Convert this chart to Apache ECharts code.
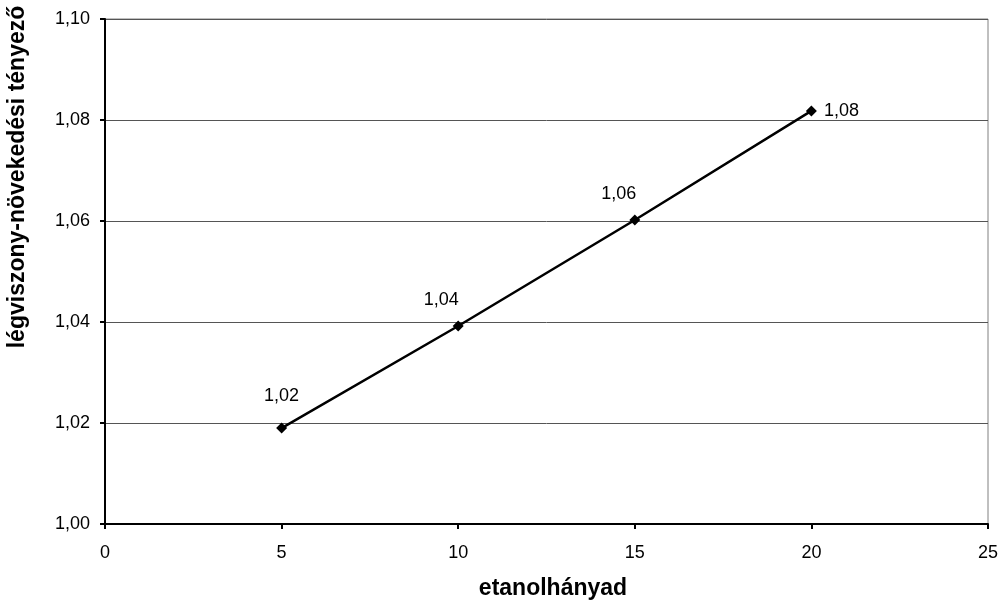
<!DOCTYPE html>
<html><head><meta charset="utf-8">
<script src="https://cdn.jsdelivr.net/npm/echarts@6/dist/echarts.min.js"></script>
<style>html,body{margin:0;padding:0;background:#fff}#c{width:1002px;height:601px}</style>
</head><body><div id="c"></div>
<script>
const xValues = [5, 10, 15, 20];
const yValues = [1.0190, 1.0392, 1.0602, 1.0818];
const labelOffsets = [[0, -32], [-17, -26], [-16, -26], [30, 0]];
const xTitle = 'etanolhányad';
const yTitle = 'légviszony-növekedési tényező';

const fmt = v => v.toFixed(2).replace('.', ',');
const font = 'Liberation Sans, Arial, sans-serif';
const chart = echarts.init(document.getElementById('c'), null, {renderer: 'canvas'});
chart.setOption({
  animation: false,
  backgroundColor: '#fff',
  grid: {left: 105, right: 14, top: 19, bottom: 77, show: true, borderColor: '#808080', borderWidth: 1},
  graphic: [
    {type: 'text', x: 18, y: 177, rotation: Math.PI / 2,
     style: {text: yTitle, fontFamily: font, fontWeight: 'bold', fontSize: 23, fill: '#000',
             align: 'center', verticalAlign: 'middle'}},
    {type: 'text', x: 553, y: 589,
     style: {text: xTitle, fontFamily: font, fontWeight: 'bold', fontSize: 23, fill: '#000',
             align: 'center', verticalAlign: 'middle'}}
  ],
  xAxis: {
    type: 'value', min: 0, max: 25, interval: 5,
    axisLine: {show: true, onZero: false, lineStyle: {color: '#000', width: 2}},
    axisTick: {show: true, length: 5, lineStyle: {color: '#000', width: 2}},
    axisLabel: {fontFamily: font, fontSize: 18, color: '#000', margin: 20},
    splitLine: {show: false}
  },
  yAxis: {
    type: 'value', min: 1.00, max: 1.10, interval: 0.02,
    axisLine: {show: true, onZero: false, lineStyle: {color: '#000', width: 2}},
    axisTick: {show: true, length: 5, lineStyle: {color: '#000', width: 2}},
    axisLabel: {fontFamily: font, fontSize: 18, color: '#000', margin: 15, formatter: v => fmt(v)},
    splitLine: {show: true, lineStyle: {color: '#555', width: 1}}
  },
  series: [{
    type: 'line',
    data: xValues.map((x, i) => ({
      value: [x, yValues[i]],
      label: {position: 'inside', offset: labelOffsets[i]}
    })),
    symbol: 'diamond', symbolSize: 11,
    itemStyle: {color: '#000'},
    lineStyle: {color: '#000', width: 2.5},
    label: {show: true, fontFamily: font, fontSize: 18, color: '#000',
      formatter: p => fmt(p.value[1])}
  }]
});
</script></body></html>
